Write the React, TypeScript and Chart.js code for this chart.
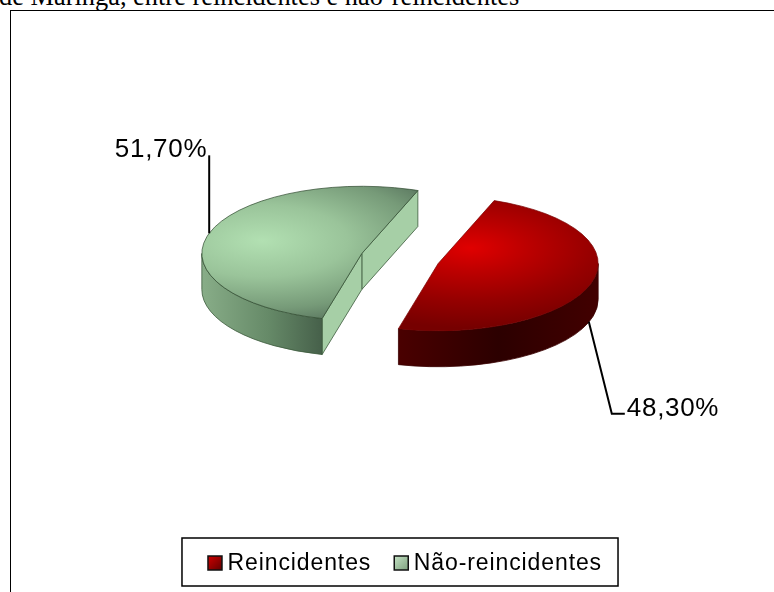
import React, { useEffect, useRef } from "react";
import { Chart, registerables } from "chart.js";

Chart.register(...registerables);

const categories = ["Reincidentes", "Não-reincidentes"];
const shares = [48.3, 51.7];
const captionText = "de Maringá, entre reincidentes e não-reincidentes";

const TEXT_FONT = '"Liberation Sans", Arial, sans-serif';
const ROTATION = 20.5;
const RADIUS = 160;
const TILT = 0.42;
const DEPTH = 36;
const EXPLODE = 40;
const CENTER_LIFT = -6;
const CENTER_SHIFT = -5;

const wallStops = [
  [[0, "#88ad88"], [0.55, "#668a68"], [1, "#46604a"]],
  [[0, "#4a0000"], [0.5, "#2c0000"], [1, "#420000"]],
];

function radialFill(ctx: CanvasRenderingContext2D, x: number, y: number, r: number, stops: [number, string][]) {
  const g = ctx.createRadialGradient(x, y, 0, x, y, r);
  stops.forEach(([p, c]) => g.addColorStop(p, c));
  return g;
}

function sliceFill(context: any) {
  const { chart, dataIndex } = context;
  const area = chart.chartArea;
  if (!area) return "#888";
  const cx = (area.left + area.right) / 2;
  const cy = (area.top + area.bottom) / 2;
  return dataIndex === 0
    ? radialFill(chart.ctx, cx + 32, cy - 37, 190, [
        [0, "#e00000"],
        [0.3, "#bc0000"],
        [0.65, "#960000"],
        [1, "#760000"],
      ])
    : radialFill(chart.ctx, cx - 100, cy - 30, 215, [
        [0, "#b2e0b2"],
        [0.4, "#9ac49a"],
        [0.75, "#769a78"],
        [1, "#526c58"],
      ]);
}

function applySpacing(chart: any) {
  chart.ctx.letterSpacing = "0.9px";
}

const pie3d = {
  id: "pie3d",
  beforeUpdate: applySpacing,
  beforeDraw: applySpacing,
  beforeDatasetsDraw(chart: any) {
    const ctx = chart.ctx as CanvasRenderingContext2D;
    const arcs = chart.getDatasetMeta(0).data;
    arcs.forEach((arc: any, i: number) => {
      const { x, y, startAngle, endAngle, outerRadius: R } = arc.getProps(["x", "y", "startAngle", "endAngle", "outerRadius"]);
      const mid = (startAngle + endAngle) / 2;
      const sx = x + CENTER_SHIFT + Math.cos(mid) * EXPLODE;
      const sy = y + CENTER_LIFT + Math.sin(mid) * EXPLODE * TILT;
      const edge = (a: number) => [sx + Math.cos(a) * R, sy + Math.sin(a) * R * TILT];

      const face = (a: number) => {
        const [ex, ey] = edge(a);
        ctx.beginPath();
        ctx.moveTo(sx, sy);
        ctx.lineTo(ex, ey);
        ctx.lineTo(ex, ey + DEPTH);
        ctx.lineTo(sx, sy + DEPTH);
        ctx.closePath();
        ctx.fillStyle = "#a6cfa6";
        ctx.strokeStyle = "#3c5a3c";
        ctx.lineWidth = 0.8;
        ctx.fill();
        ctx.stroke();
      };
      if (Math.cos(endAngle) > 0) face(endAngle);
      if (Math.cos(startAngle) < 0) face(startAngle);

      const a0 = Math.max(startAngle, 0);
      const a1 = Math.min(endAngle, Math.PI);
      const wall = ctx.createLinearGradient(edge(a1)[0], 0, edge(a0)[0], 0);
      wallStops[i === 0 ? 1 : 0].forEach(([p, c]) => wall.addColorStop(p as number, c as string));
      ctx.beginPath();
      ctx.ellipse(sx, sy, R, R * TILT, 0, a0, a1);
      ctx.ellipse(sx, sy + DEPTH, R, R * TILT, 0, a1, a0, true);
      ctx.closePath();
      ctx.fillStyle = wall;
      ctx.fill();
      ctx.strokeStyle = i === 0 ? "#3a0000" : "#3c5a3c";
      ctx.lineWidth = 0.8;
      ctx.stroke();

      ctx.save();
      ctx.translate(sx, sy);
      ctx.scale(1, TILT);
      ctx.translate(-x, -y);
      arc.draw(ctx);
      ctx.restore();
    });
    return false;
  },
  afterDraw(chart: any) {
    const ctx = chart.ctx as CanvasRenderingContext2D;
    const arcs = chart.getDatasetMeta(0).data;

    // Leader lines and value labels, anchored on each slice's mid-angle rim point.
    ctx.save();
    ctx.strokeStyle = "#000";
    ctx.fillStyle = "#000";
    ctx.lineWidth = 2;
    ctx.font = `26px ${TEXT_FONT}`;
    ctx.letterSpacing = "0.7px";
    ctx.textBaseline = "middle";
    arcs.forEach((arc: any, i: number) => {
      const { x, y, startAngle, endAngle, outerRadius: R } = arc.getProps(["x", "y", "startAngle", "endAngle", "outerRadius"]);
      const mid = (startAngle + endAngle) / 2;
      const ax = x + CENTER_SHIFT + Math.cos(mid) * (EXPLODE + R);
      const ay = y + CENTER_LIFT + Math.sin(mid) * (EXPLODE + R) * TILT;
      const text = shares[i].toFixed(2).replace(".", ",") + "%";
      ctx.beginPath();
      if (i === 0) {
        ctx.moveTo(ax - 2, ay + DEPTH + 2);
        ctx.lineTo(ax + 21, ay + 130);
        ctx.lineTo(ax + 34, ay + 130);
        ctx.stroke();
        ctx.textAlign = "left";
        ctx.fillText(text, ax + 36, ay + 125);
      } else {
        ctx.moveTo(ax, ay);
        ctx.lineTo(ax, ay - 78);
        ctx.stroke();
        ctx.textAlign = "right";
        ctx.fillText(text, ax - 2, ay - 83);
      }
    });
    ctx.restore();

    // Legend frame and square markers.
    const boxes = chart.legend.legendHitBoxes;
    const first = boxes[0];
    const last = boxes[boxes.length - 1];
    ctx.save();
    ctx.strokeStyle = "#000";
    ctx.lineWidth = 1.5;
    ctx.strokeRect(first.left - 26, first.top - 14, last.left + last.width - first.left + 42, 48);
    boxes.forEach((b: any, i: number) => {
      const g = ctx.createLinearGradient(b.left, b.top, b.left + 14, b.top + 14);
      const tones = i === 0 ? ["#e00000", "#700000"] : ["#cfeccf", "#88aa88"];
      g.addColorStop(0, tones[0]);
      g.addColorStop(1, tones[1]);
      ctx.fillStyle = g;
      ctx.strokeStyle = "#111";
      ctx.lineWidth = 1.5;
      ctx.fillRect(b.left, b.top + 4, 14, 14);
      ctx.strokeRect(b.left, b.top + 4, 14, 14);
    });
    ctx.restore();
  },
};

export default function App() {
  const ref = useRef<HTMLCanvasElement>(null);
  useEffect(() => {
    const chart = new Chart(ref.current as HTMLCanvasElement, {
      type: "pie",
      data: {
        labels: categories,
        datasets: [
          {
            data: shares,
            backgroundColor: sliceFill,
            borderColor: ["#7a0000", "#2f4a2f"],
            borderWidth: 1,
          },
        ],
      },
      options: {
        responsive: false,
        animation: false,
        rotation: ROTATION,
        radius: RADIUS,
        layout: { padding: { left: 36, bottom: 7 } },
        plugins: {
          tooltip: { enabled: false },
          legend: {
            position: "bottom",
            labels: {
              boxWidth: 8,
              boxHeight: 8,
              padding: 23,
              color: "#000",
              font: { family: TEXT_FONT, size: 23 },
              generateLabels: () =>
                categories.map((text, i) => ({
                  text,
                  fillStyle: "rgba(0,0,0,0)",
                  strokeStyle: "rgba(0,0,0,0)",
                  lineWidth: 0,
                  hidden: false,
                  index: i,
                })),
            },
          },
        },
      },
      plugins: [pie3d],
    } as any);
    return () => chart.destroy();
  }, []);

  return (
    <div style={{ position: "fixed", inset: 0, overflow: "hidden", background: "#fff" }}>
      <div
        style={{
          position: "absolute",
          left: -1,
          top: -19,
          font: '26.4px "Liberation Serif", serif',
          whiteSpace: "nowrap",
          color: "#000",
        }}
      >
        {captionText}
      </div>
      <canvas ref={ref} width={774} height={592} style={{ position: "absolute", left: 0, top: 0 }} />
      <div
        style={{
          position: "absolute",
          left: 10,
          top: 10,
          width: 780,
          height: 600,
          borderLeft: "1.5px solid #000",
          borderTop: "1.5px solid #000",
          pointerEvents: "none",
        }}
      />
    </div>
  );
}
